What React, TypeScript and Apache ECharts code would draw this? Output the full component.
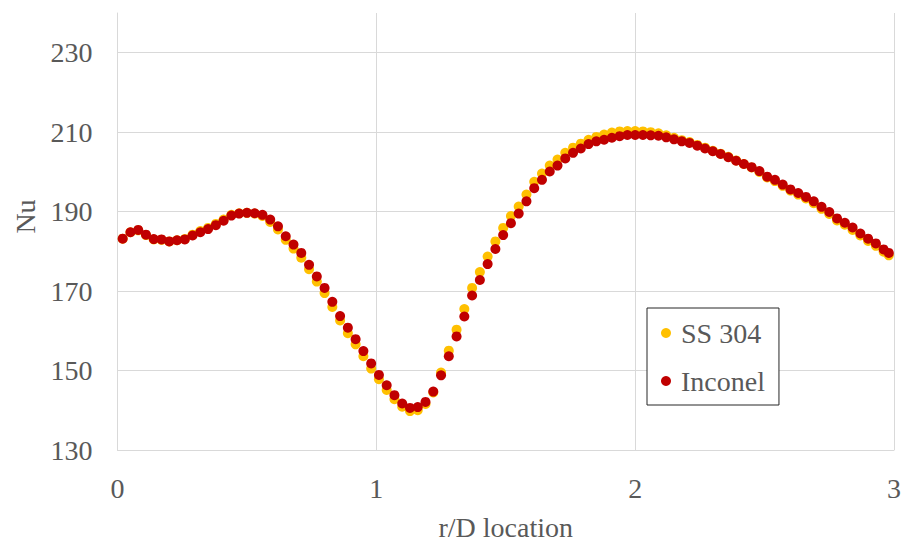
import React, { useEffect, useRef } from "react";
import * as echarts from "echarts";

// r/D locations (shared by both series)
const rD: number[] = [
  0.02, 0.05, 0.08, 0.11, 0.14, 0.17, 0.2, 0.23, 0.26, 0.29,
  0.32, 0.35, 0.38, 0.41, 0.44, 0.47, 0.5, 0.53, 0.56, 0.59,
  0.62, 0.65, 0.68, 0.71, 0.74, 0.77, 0.8, 0.83, 0.86, 0.89,
  0.92, 0.95, 0.98, 1.01, 1.04, 1.07, 1.1, 1.13, 1.16, 1.19,
  1.22, 1.25, 1.28, 1.31, 1.34, 1.37, 1.4, 1.43, 1.46, 1.49,
  1.52, 1.55, 1.58, 1.61, 1.64, 1.67, 1.7, 1.73, 1.76, 1.79,
  1.82, 1.85, 1.88, 1.91, 1.94, 1.97, 2.0, 2.03, 2.06, 2.09,
  2.12, 2.15, 2.18, 2.21, 2.24, 2.27, 2.3, 2.33, 2.36, 2.39,
  2.42, 2.45, 2.48, 2.51, 2.54, 2.57, 2.6, 2.63, 2.66, 2.69,
  2.72, 2.75, 2.78, 2.81, 2.84, 2.87, 2.9, 2.93, 2.96, 2.98,
];

const ss304: number[] = [
  183.2, 184.8, 185.3, 184.1, 183.0, 182.9, 182.5, 182.8, 183.1, 184.2,
  185.1, 185.9, 186.9, 188.0, 189.2, 189.6, 189.7, 189.5, 188.9, 187.4,
  185.5, 182.9, 180.7, 178.4, 175.5, 172.4, 169.5, 166.0, 162.6, 159.4,
  156.6, 153.6, 150.5, 147.8, 145.1, 142.8, 140.9, 139.8, 140.0, 141.6,
  144.5, 149.5, 155.0, 160.3, 165.5, 170.8, 174.8, 178.7, 182.5, 185.9,
  188.9, 191.3, 194.3, 197.5, 199.6, 201.6, 203.1, 204.8, 206.1, 207.1,
  208.1, 208.8, 209.4, 209.9, 210.2, 210.3, 210.3, 210.2, 210.0, 209.7,
  209.2, 208.6, 208.0, 207.5, 206.8, 206.1, 205.3, 204.6, 203.8, 202.9,
  202.0, 201.1, 200.0, 198.6, 197.7, 196.5, 195.3, 194.3, 193.3, 192.1,
  190.7, 189.4, 187.8, 186.7, 185.4, 184.0, 182.6, 181.4, 179.9, 179.0,
];

const inconel: number[] = [
  183.2, 184.8, 185.4, 184.2, 183.1, 183.0, 182.5, 182.8, 183.0, 184.0,
  184.8, 185.6, 186.6, 187.7, 189.0, 189.5, 189.7, 189.6, 189.2, 188.0,
  186.3, 183.8, 181.7, 179.6, 176.6, 173.7, 170.8, 167.3, 163.7, 160.8,
  157.9, 154.9, 151.8, 148.9, 146.3, 143.8, 141.7, 140.6, 140.8, 142.1,
  144.7, 148.8, 153.6, 158.6, 163.6, 168.9, 172.8, 176.8, 180.6, 184.1,
  187.1, 189.5, 192.6, 195.9, 198.0, 200.1, 201.6, 203.4, 204.8, 205.9,
  207.0, 207.7, 208.1, 208.6, 209.0, 209.3, 209.3, 209.3, 209.2, 209.1,
  208.7, 208.2, 207.7, 207.3, 206.6, 205.9, 205.2, 204.5, 203.7, 202.8,
  202.0, 201.2, 200.2, 198.8, 198.0, 196.8, 195.6, 194.7, 193.7, 192.6,
  191.2, 189.9, 188.3, 187.2, 186.0, 184.5, 183.2, 182.0, 180.5, 179.6,
];

const seriesNames = ["SS 304", "Inconel"];
const seriesColors = ["#FFC000", "#C00000"];

const FONT = "Liberation Serif";
const TEXT_COLOR = "#595959";
const GRID_COLOR = "#d9d9d9";

export default function App() {
  const ref = useRef<HTMLDivElement>(null);

  useEffect(() => {
    if (!ref.current) return;
    const chart = echarts.init(ref.current, undefined, { renderer: "svg" });
    const toPairs = (ys: number[]) => rD.map((x, i) => [x, ys[i]]);
    chart.setOption({
      animation: false,
      backgroundColor: "#ffffff",
      textStyle: { fontFamily: FONT },
      grid: { left: 117.5, right: 7.5, top: 13, bottom: 88, containLabel: false },
      legend: {
        orient: "vertical",
        left: 647,
        top: 308,
        data: seriesNames,
        icon: "circle",
        itemWidth: 10,
        itemHeight: 10,
        itemGap: 20,
        padding: [11, 14, 10, 14],
        borderColor: "#262626",
        borderWidth: 1,
        backgroundColor: "#ffffff",
        textStyle: {
          fontFamily: FONT,
          fontSize: 28,
          color: TEXT_COLOR,
          padding: [0, 0, 0, 5],
        },
      },
      xAxis: {
        type: "value",
        min: 0,
        max: 3,
        interval: 1,
        name: "r/D location",
        nameLocation: "middle",
        nameGap: 63,
        nameTextStyle: { fontFamily: FONT, fontSize: 28, color: TEXT_COLOR },
        axisLine: { show: true, lineStyle: { color: GRID_COLOR, width: 1 } },
        axisTick: { show: false },
        axisLabel: { fontFamily: FONT, fontSize: 28, color: TEXT_COLOR, margin: 24 },
        splitLine: { show: true, lineStyle: { color: GRID_COLOR, width: 1 } },
      },
      yAxis: {
        type: "value",
        min: 130,
        max: 240,
        interval: 20,
        name: "Nu",
        nameLocation: "middle",
        nameGap: 78,
        nameTextStyle: { fontFamily: FONT, fontSize: 28, color: TEXT_COLOR, padding: [0, 0, 0, 30] },
        axisLine: { show: true, lineStyle: { color: GRID_COLOR, width: 1 } },
        axisTick: { show: false },
        axisLabel: { fontFamily: FONT, fontSize: 28, color: TEXT_COLOR, margin: 25, showMaxLabel: false },
        splitLine: { show: true, showMaxLine: false, lineStyle: { color: GRID_COLOR, width: 1 } },
      },
      series: [
        {
          name: seriesNames[0],
          type: "scatter",
          symbol: "circle",
          symbolSize: 10,
          itemStyle: { color: seriesColors[0], opacity: 1 },
          data: toPairs(ss304),
          z: 2,
        },
        {
          name: seriesNames[1],
          type: "scatter",
          symbol: "circle",
          symbolSize: 10,
          itemStyle: { color: seriesColors[1], opacity: 1 },
          data: toPairs(inconel),
          z: 3,
        },
      ],
    });
    return () => chart.dispose();
  }, []);

  return (
    <div
      ref={ref}
      style={{ position: "fixed", left: 0, top: 0, width: 904, height: 546 }}
    />
  );
}
